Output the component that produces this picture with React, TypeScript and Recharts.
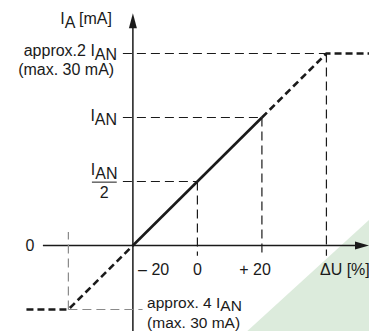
import { Area, ComposedChart, Line, ReferenceDot, ReferenceLine, XAxis, YAxis } from 'recharts'

// ΔU in %, current in diagram steps (1 step = I_AN / 2, top step = approx. 2 I_AN)
const deltaU = [-53, -40, -20, 20, 40, 53.2]
const currentLevel = [-1, -1, 0, 2, 3, 3]

// guide levels on the current axis
const levelTop = 3 // approx. 2 I_AN
const levelNominal = 2 // I_AN
const levelHalf = 1 // I_AN / 2
const levelLow = -1 // approx. 4 I_AN (negative branch)

// tick positions on the ΔU axis
const uTicks = [-20, 0, 20, 40]
const uLeft = -40

// green watermark corner
const wedgeU = [15.4, 53.2]
const wedgeLevel = [-1.34, 0.4]

const X_MIN = -61.2
const X_MAX = 53.2
const Y_MIN = -1.336
const Y_MAX = 3.836

const INK = '#1a1a1a'
const FONT = '"Liberation Sans", Arial, sans-serif'

const curve = deltaU.map((x, i) => ({ x, y: currentLevel[i] }))
const lowBranch = curve.slice(0, 3)
const linearPart = curve.slice(2, 4)
const highBranch = curve.slice(3)
const wedge = wedgeU.map((x, i) => ({ x, g: wedgeLevel[i] }))

type Part = { t: string; sub?: boolean }
type Anchor = 'start' | 'middle' | 'end'

function TextMark(parts: Part[], anchor: Anchor, size: number, drop: number) {
  return (props: any) => (
    <text
      x={props.cx}
      y={props.cy}
      textAnchor={anchor}
      fontFamily={FONT}
      fontSize={size}
      fill={INK}
    >
      {parts.map((p, i) => (
        <tspan key={i} dy={p.sub ? drop : i > 0 && parts[i - 1].sub ? -drop : 0}>
          {p.t}
        </tspan>
      ))}
    </text>
  )
}

function ArrowUp(props: any) {
  const { cx, cy } = props
  return <polygon points={`${cx},${cy} ${cx - 4},${cy + 15} ${cx + 4},${cy + 15}`} fill={INK} />
}

function ArrowRight(props: any) {
  const { cx, cy } = props
  return <polygon points={`${cx},${cy} ${cx - 14},${cy - 4} ${cx - 14},${cy + 4}`} fill={INK} />
}

const labels: { x: number; y: number; parts: Part[]; anchor: Anchor; size?: number; drop?: number }[] = [
  { x: -26.5, y: 3.46, parts: [{ t: 'I' }, { t: 'A', sub: true }, { t: ' [mA]' }], anchor: 'end' },
  { x: -24.9, y: 2.96, parts: [{ t: 'approx.2 I' }, { t: 'AN', sub: true }], anchor: 'end' },
  { x: -25.8, y: 2.66, parts: [{ t: '(max. 30 mA)' }], anchor: 'end' },
  { x: -24.9, y: 1.94, parts: [{ t: 'I' }, { t: 'AN', sub: true }], anchor: 'end' },
  { x: -28.9, y: 1.1, parts: [{ t: 'I' }, { t: 'AN', sub: true }], anchor: 'middle' },
  { x: -28.9, y: 0.74, parts: [{ t: '2' }], anchor: 'middle' },
  { x: -51.9, y: -0.09, parts: [{ t: '0' }], anchor: 'middle' },
  { x: -18.4, y: -0.46, parts: [{ t: '– 20' }], anchor: 'start' },
  { x: 0, y: -0.46, parts: [{ t: '0' }], anchor: 'middle' },
  { x: 17.9, y: -0.46, parts: [{ t: '+ 20' }], anchor: 'middle' },
  { x: 38, y: -0.46, parts: [{ t: 'ΔU [%]' }], anchor: 'start' },
  { x: -15.6, y: -0.977, parts: [{ t: 'approx. 4 I' }, { t: 'AN', sub: true }], anchor: 'start', size: 15.5, drop: 2.5 },
  { x: -15.6, y: -1.282, parts: [{ t: '(max. 30 mA)' }], anchor: 'start', size: 15.5 },
]

const thin = { stroke: INK, strokeWidth: 1.2, strokeDasharray: '9 5' }
const grey = { stroke: '#8a8a8a', strokeWidth: 1.2, strokeDasharray: '9 5' }
const thick = { stroke: INK, strokeWidth: 2.6, strokeDasharray: '7 4', strokeLinecap: 'butt' as const }

export default function App() {
  return (
    <div style={{ position: 'absolute', left: 0, top: 0, width: 369, height: 331, background: '#fff' }}>
      <ComposedChart width={369} height={331} margin={{ top: 0, right: 0, bottom: 0, left: 0 }}>
        <XAxis type="number" dataKey="x" domain={[X_MIN, X_MAX]} allowDataOverflow hide />
        <YAxis type="number" domain={[Y_MIN, Y_MAX]} allowDataOverflow hide />

        <Area
          data={wedge}
          dataKey="g"
          type="linear"
          baseValue={Y_MIN}
          stroke="none"
          fill="#dcebdc"
          fillOpacity={1}
          isAnimationActive={false}
        />

        {/* axes */}
        <ReferenceLine segment={[{ x: -47.9, y: 0 }, { x: X_MAX - 2, y: 0 }]} stroke={INK} strokeWidth={1.5} />
        <ReferenceLine segment={[{ x: uTicks[0], y: Y_MIN }, { x: uTicks[0], y: 3.4 }]} stroke={INK} strokeWidth={1.5} />
        <ReferenceDot x={uTicks[0]} y={3.63} r={0} shape={ArrowUp} />
        <ReferenceDot x={X_MAX} y={0} r={0} shape={ArrowRight} />

        {/* horizontal guides */}
        <ReferenceLine segment={[{ x: -23.1, y: levelTop }, { x: uTicks[3], y: levelTop }]} {...thin} />
        <ReferenceLine segment={[{ x: -23.1, y: levelNominal }, { x: uTicks[2], y: levelNominal }]} {...thin} />
        <ReferenceLine segment={[{ x: -23.1, y: levelHalf }, { x: uTicks[1], y: levelHalf }]} {...thin} />
        <ReferenceLine segment={[{ x: uLeft, y: levelLow }, { x: -17, y: levelLow }]} {...grey} />
        {/* fraction bar of I_AN / 2 */}
        <ReferenceLine segment={[{ x: -32.7, y: 0.99 }, { x: -25, y: 0.99 }]} stroke={INK} strokeWidth={1} />

        {/* vertical guides */}
        <ReferenceLine segment={[{ x: uTicks[1], y: levelHalf }, { x: uTicks[1], y: -0.16 }]} {...thin} />
        <ReferenceLine segment={[{ x: uTicks[2], y: levelNominal }, { x: uTicks[2], y: -0.16 }]} {...thin} />
        <ReferenceLine segment={[{ x: uTicks[3], y: levelTop }, { x: uTicks[3], y: -0.16 }]} {...thin} />
        <ReferenceLine segment={[{ x: uLeft, y: levelLow }, { x: uLeft, y: 0.21 }]} {...grey} />

        {/* characteristic */}
        <Line data={lowBranch} dataKey="y" type="linear" dot={false} activeDot={false} {...thick} isAnimationActive={false} />
        <Line data={linearPart} dataKey="y" type="linear" dot={false} activeDot={false} stroke={INK} strokeWidth={2.6} isAnimationActive={false} />
        <Line data={highBranch} dataKey="y" type="linear" dot={false} activeDot={false} {...thick} isAnimationActive={false} />

        {labels.map((l, i) => (
          <ReferenceDot
            key={i}
            x={l.x}
            y={l.y}
            r={0}
            shape={TextMark(l.parts, l.anchor, l.size ?? 16, l.drop ?? 4)}
          />
        ))}
      </ComposedChart>
    </div>
  )
}
